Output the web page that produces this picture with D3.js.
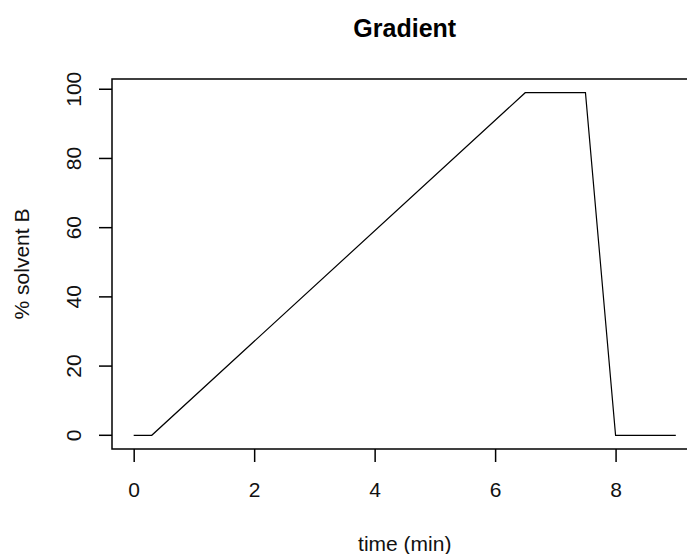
<!DOCTYPE html>
<html><head><meta charset="utf-8">
<script src="https://cdn.jsdelivr.net/npm/d3@7"></script>
<style>body{margin:0;background:#fff}svg{display:block}text{font-family:"Liberation Sans",Arial,sans-serif;fill:#111}</style>
</head><body>
<script>
const timeMin = [0, 0.3, 6.5, 7.5, 8, 9];
const solventB = [0, 0, 99, 99, 0, 0];
const xTicks = [0, 2, 4, 6, 8];
const yTicks = [0, 20, 40, 60, 80, 100];
const title = "Gradient", xLabel = "time (min)", yLabel = "% solvent B";

const W = 687, H = 554;
const svg = d3.select("body").append("svg").attr("width", W).attr("height", H);
const pL = 112, pR = 697.5, pT = 79, pB = 449;
const x = d3.scaleLinear().domain([-0.36, 9.36]).range([pL, pR]);
const y = d3.scaleLinear().domain([-3.96, 102.96]).range([pB, pT]);

svg.append("rect").attr("x", pL).attr("y", pT).attr("width", pR-pL).attr("height", pB-pT)
  .attr("fill", "none").attr("stroke", "#000").attr("stroke-width", 1.5);

const xa = svg.append("g").attr("transform", `translate(0,${pB})`)
  .call(d3.axisBottom(x).tickValues(xTicks).tickSize(13).tickPadding(20).tickFormat(d3.format("d")));
xa.select(".domain").remove();
xa.selectAll("text").attr("font-size", 21).style("font-family", "Liberation Sans, Arial, sans-serif").style("fill", "#111");
xa.selectAll("line").attr("stroke", "#000").attr("stroke-width", 1.5);

const ya = svg.append("g").attr("transform", `translate(${pL},0)`)
  .call(d3.axisLeft(y).tickValues(yTicks).tickSize(13).tickFormat(d3.format("d")));
ya.select(".domain").remove();
ya.selectAll("line").attr("stroke", "#000").attr("stroke-width", 1.5);
ya.selectAll(".tick").attr("transform", null);
ya.selectAll(".tick line").attr("transform", d => `translate(0,${y(d)})`);
ya.selectAll(".tick text").attr("font-size", 21).attr("text-anchor", "middle").attr("x", null).attr("y", 0).attr("dy", "0.35em")
  .attr("transform", d => `translate(${-38},${y(d)}) rotate(-90)`)
  .style("font-family", "Liberation Sans, Arial, sans-serif").style("fill", "#111");

const line = d3.line().x((d, i) => x(timeMin[i])).y(d => y(d));
svg.append("path").datum(solventB).attr("d", line).attr("fill", "none").attr("stroke", "#000").attr("stroke-width", 1.2);

const cx = (pL + pR) / 2;
svg.append("text").attr("x", cx).attr("y", 37).attr("text-anchor", "middle").attr("font-size", 25).attr("font-weight", "bold").style("fill", "#000").text(title);
svg.append("text").attr("x", cx).attr("y", 551).attr("text-anchor", "middle").attr("font-size", 21).text(xLabel);
svg.append("text").attr("transform", `translate(29,${(pT+pB)/2}) rotate(-90)`).attr("text-anchor", "middle").attr("font-size", 21).text(yLabel);
</script>
</body></html>
